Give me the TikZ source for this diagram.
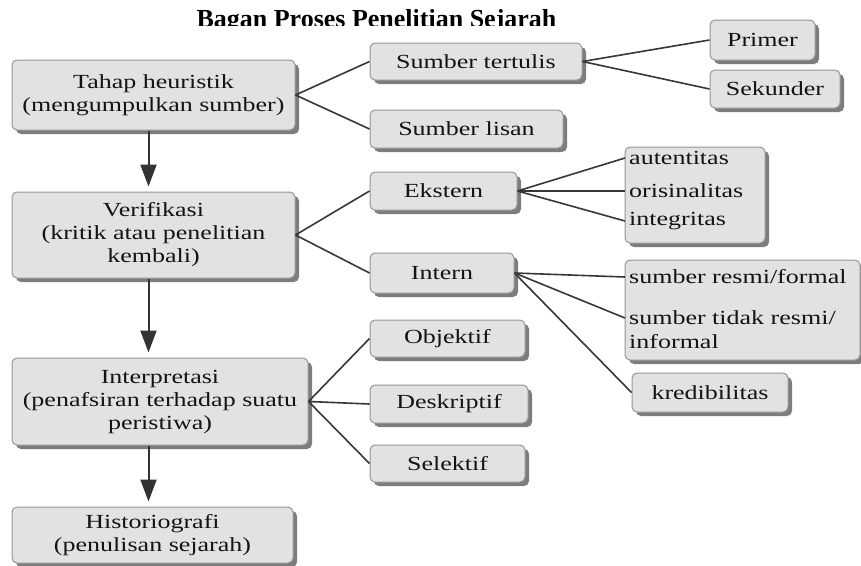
\documentclass[tikz,border=0pt]{standalone}
\usepackage{fontspec}
\setmainfont[FakeStretch=1.3]{Liberation Serif}
\newfontfamily\titlefont{Liberation Serif}
\usetikzlibrary{arrows.meta, shadows}
\definecolor{boxfill}{RGB}{226,226,226}
\definecolor{boxline}{RGB}{150,150,150}
\definecolor{boxshadow}{RGB}{125,125,125}
\definecolor{linkgray}{RGB}{55,55,55}
\definecolor{textgray}{RGB}{20,20,20}

\begin{document}
\begin{tikzpicture}[x=1pt,y=-1pt,
  stagebox/.style={draw=boxline,fill=boxfill,rounded corners=5pt,line width=1pt,
    drop shadow={shadow xshift=4pt,shadow yshift=-4pt,fill=boxshadow,opacity=1},
    align=center,inner sep=0pt,text=textgray,font=\fontsize{20}{23}\selectfont},
  itemtxt/.style={anchor=west,inner xsep=4pt,inner ysep=0pt,text=textgray,
    font=\fontsize{20}{23}\selectfont},
  conn/.style={draw=linkgray,line width=1.6pt},
  flowarrow/.style={draw=black!80,line width=2pt,shorten >=5pt,
    -{Triangle[width=16pt,length=22pt]}}]
\useasboundingbox (0,0) rectangle (861,565);

% Title (cut off at the bottom as in the source)
\begin{scope}
\clip (0,0) rectangle (861,25);
\node[anchor=base,inner sep=0pt,font=\titlefont\bfseries\fontsize{26}{30}\selectfont] (title) at (376.5,27.5) {Bagan Proses Penelitian Sejarah};
\end{scope}

% Main stages
\node[stagebox,minimum width=283pt,minimum height=70pt] (heur) at (153.5,95) {Tahap heuristik\\(mengumpulkan sumber)};
\node[stagebox,minimum width=283pt,minimum height=86pt] (verif) at (153.5,235) {Verifikasi\\(kritik atau penelitian\\kembali)};
\node[stagebox,minimum width=296pt,minimum height=87pt] (interp) at (160,401.5) {Interpretasi\\(penafsiran terhadap suatu\\peristiwa)};
\node[stagebox,minimum width=281pt,minimum height=56pt] (histo) at (152.5,535) {Historiografi\\(penulisan sejarah)};

% Second level
\node[stagebox,minimum width=212pt,minimum height=37pt] (tertulis) at (476,61.5) {Sumber tertulis};
\node[stagebox,minimum width=193pt,minimum height=38pt] (lisan) at (466.5,129) {Sumber lisan};
\node[stagebox,minimum width=147pt,minimum height=38pt] (ekstern) at (443.5,191) {Ekstern};
\node[stagebox,minimum width=144pt,minimum height=40pt] (intern) at (442,273) {Intern};
\node[stagebox,minimum width=155pt,minimum height=37pt] (objektif) at (447.5,338.5) {Objektif};
\node[stagebox,minimum width=158pt,minimum height=38pt] (deskriptif) at (449,404) {Deskriptif};
\node[stagebox,minimum width=155pt,minimum height=37pt] (selektif) at (447.5,463.5) {Selektif};

% Third level
\node[stagebox,minimum width=105pt,minimum height=40pt] (primer) at (762.5,40) {Primer};
\node[stagebox,minimum width=130pt,minimum height=38pt] (sekunder) at (775,89) {Sekunder};
\node[stagebox,minimum width=140pt,minimum height=96pt] (grpekstern) at (695,195) {};
\node[itemtxt] (autentitas) at (625,158) {autentitas};
\node[itemtxt] (orisinalitas) at (625,191) {orisinalitas};
\node[itemtxt] (integritas) at (625,221) {integritas};
\node[stagebox,minimum width=235pt,minimum height=100pt] (grpintern) at (742.5,310) {};
\node[itemtxt] (resmi) at (625,277) {sumber resmi/formal};
\node[itemtxt] (tidakresmi) at (625,318) {sumber tidak resmi/};
\node[itemtxt] (informal) at (625,342) {informal};
\node[stagebox,minimum width=156pt,minimum height=39pt] (kredibilitas) at (710,392.5) {kredibilitas};

% Flow of the stages
\draw[flowarrow] ([xshift=-5pt]heur.south) -- ([xshift=-5pt]heur.south |- verif.north);
\draw[flowarrow] ([xshift=-5pt]verif.south) -- ([xshift=-5pt]verif.south |- interp.north);
\draw[flowarrow] ([xshift=-5pt]verif.south |- interp.south) -- ([xshift=-5pt]verif.south |- histo.north);

% Branches
\draw[conn] (heur.east) -- (tertulis.west);
\draw[conn] (heur.east) -- (lisan.west);
\draw[conn] (tertulis.east) -- (primer.west);
\draw[conn] (tertulis.east) -- (sekunder.west);
\draw[conn] (verif.east) -- (ekstern.west);
\draw[conn] (verif.east) -- (intern.west);
\draw[conn] (ekstern.east) -- (autentitas.west);
\draw[conn] (ekstern.east) -- (orisinalitas.west);
\draw[conn] (ekstern.east) -- (integritas.west);
\draw[conn] (intern.east) -- (resmi.west);
\draw[conn] (intern.east) -- (tidakresmi.west);
\draw[conn] (intern.east) -- (kredibilitas.west);
\draw[conn] (interp.east) -- (objektif.west);
\draw[conn] (interp.east) -- (deskriptif.west);
\draw[conn] (interp.east) -- (selektif.west);
\end{tikzpicture}
\end{document}
